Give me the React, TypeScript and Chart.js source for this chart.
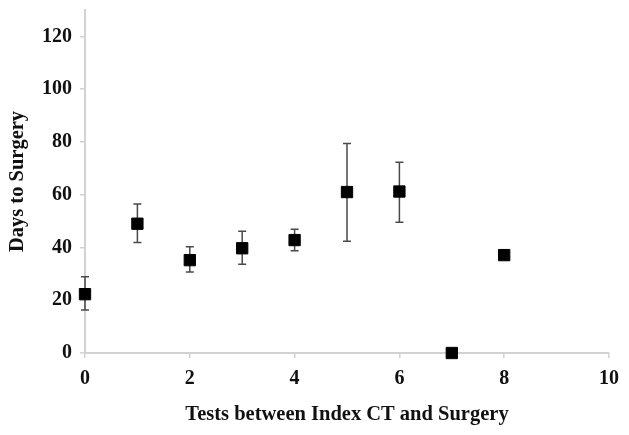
import React, { useEffect, useRef } from "react";
import { Chart, registerables } from "chart.js";

Chart.register(...registerables);

const xValues = [0, 1, 2, 3, 4, 5, 6, 7, 8];
const meanDays = [22.3, 49, 35.2, 39.7, 42.8, 61, 61.2, 0, 37.1];
const upperDays = [28.9, 56.5, 40.3, 46.1, 46.9, 79.4, 72.3, null, null];
const lowerDays = [16.3, 41.9, 30.7, 33.6, 38.8, 42.4, 49.6, null, null];

const xTitle = "Tests between Index CT and Surgery";
const yTitle = "Days to Surgery";

const errorBarPlugin = {
  id: "errorBars",
  beforeDatasetsDraw(chart: any) {
    const ctx = chart.ctx;
    const xs = chart.scales.x;
    const ys = chart.scales.y;
    ctx.save();
    ctx.strokeStyle = "#4a4a4a";
    ctx.lineWidth = 1.5;
    xValues.forEach((xv, i) => {
      const hi = upperDays[i];
      const lo = lowerDays[i];
      if (hi == null || lo == null) return;
      const px = xs.getPixelForValue(xv);
      const pyHi = ys.getPixelForValue(hi);
      const pyLo = ys.getPixelForValue(lo);
      const cap = 4;
      ctx.beginPath();
      ctx.moveTo(px, pyHi);
      ctx.lineTo(px, pyLo);
      ctx.moveTo(px - cap, pyHi);
      ctx.lineTo(px + cap, pyHi);
      ctx.moveTo(px - cap, pyLo);
      ctx.lineTo(px + cap, pyLo);
      ctx.stroke();
    });
    ctx.restore();
  },
};

export default function App() {
  const ref = useRef<HTMLCanvasElement | null>(null);
  useEffect(() => {
    if (!ref.current) return;
    const axisColor = "#d2d2d2";
    const font = "'Liberation Serif', 'Times New Roman', serif";
    const chart = new Chart(ref.current, {
      type: "scatter",
      data: {
        datasets: [
          {
            data: xValues.map((x, i) => ({ x, y: meanDays[i] })),
            pointStyle: "rect",
            pointRadius: 8,
            pointBackgroundColor: "#000",
            pointBorderColor: "#000",
            pointBorderWidth: 1,
            clip: false,
          },
        ],
      },
      options: {
        responsive: false,
        animation: false,
        layout: { padding: { top: 10, right: 20, left: 0, bottom: 0 } },
        plugins: { legend: { display: false }, tooltip: { enabled: false } },
        scales: {
          x: {
            type: "linear",
            min: 0,
            max: 10,
            ticks: {
              stepSize: 2,
              color: "#111",
              padding: 9,
              font: { family: font, size: 20, weight: "bold" },
            },
            grid: { drawOnChartArea: false, drawTicks: true, tickLength: 5, color: axisColor, lineWidth: 1.5 },
            border: { color: axisColor, width: 2 },
            title: {
              display: true,
              text: xTitle,
              color: "#111",
              font: { family: font, size: 20.5, weight: "bold" },
              padding: { top: 0, bottom: 8 },
            },
            afterFit(scale: any) {
              scale.height = 82;
              scale.paddingLeft = 0;
              scale.paddingRight = 0;
            },
          },
          y: {
            min: 0,
            max: 130,
            ticks: {
              stepSize: 20,
              color: "#111",
              padding: 8,
              font: { family: font, size: 20, weight: "bold" },
            },
            afterBuildTicks(scale: any) {
              scale.ticks = scale.ticks.filter((t: any) => t.value % 20 === 0);
            },
            grid: { drawOnChartArea: false, drawTicks: true, tickLength: 5, color: axisColor, lineWidth: 1.5 },
            border: { color: axisColor, width: 2 },
            title: {
              display: true,
              text: yTitle,
              color: "#111",
              font: { family: font, size: 20.5, weight: "bold" },
              padding: { top: 5, bottom: 0 },
            },
            afterFit(scale: any) {
              scale.width = 85;
              scale.paddingTop = 0;
              scale.paddingBottom = 0;
            },
          },
        },
      } as any,
      plugins: [errorBarPlugin],
    });
    return () => chart.destroy();
  }, []);
  return (
    <div style={{ position: "fixed", left: 0, top: 0, width: 629, height: 435, background: "#fff" }}>
      <canvas ref={ref} width={629} height={435} />
    </div>
  );
}
